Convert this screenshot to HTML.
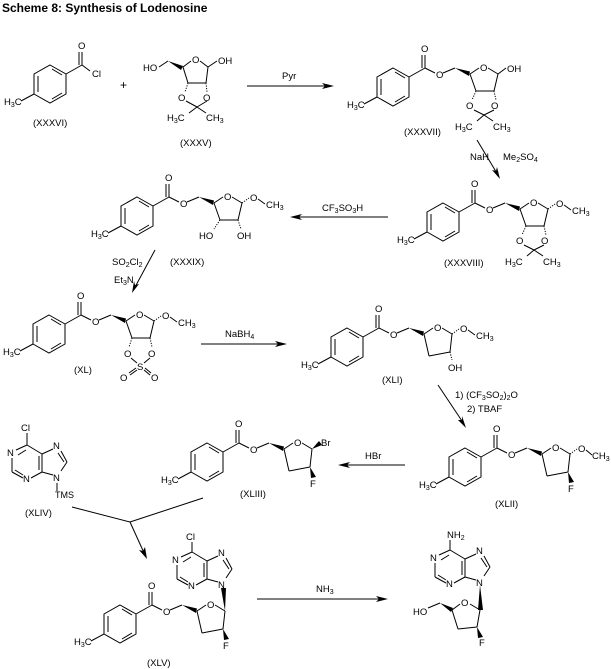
<!DOCTYPE html>
<html><head><meta charset="utf-8"><style>
html,body{margin:0;padding:0;background:#fff;}
svg{display:block;}
text{font-family:"Liberation Sans",sans-serif;font-size:9.5px;fill:#000;}
.s{font-size:7px;}
line,polyline,polygon.r{stroke:#000;stroke-width:1;fill:none;}
polygon.w{fill:#000;stroke:none;}
.h{stroke:#000;stroke-width:1;stroke-dasharray:1.2,1.3;}
</style></head><body>
<svg width="611" height="669" viewBox="0 0 611 669" xmlns="http://www.w3.org/2000/svg">
<defs>
<g id="tol">
<polygon class="r" points="0,-19 16,-10 16,10 0,19 -16,10 -16,-10"/>
<line x1="-12" y1="-8" x2="-12" y2="8"/>
<line x1="2" y1="-15" x2="12" y2="-9"/>
<line x1="2" y1="15" x2="12" y2="9"/>
<line x1="-16" y1="10" x2="-29" y2="17"/>
<line x1="16" y1="-10" x2="32" y2="-19"/>
<line x1="32" y1="-19" x2="32" y2="-32"/>
<line x1="29" y1="-19" x2="29" y2="-32"/>
</g>
<g id="est">
<line x1="32" y1="-19" x2="42" y2="-14"/>
<line x1="50" y1="-14" x2="62" y2="-19"/>
<polygon class="w" points="62,-19 77,-15.5 76,-11"/>
</g>
<g id="acet">
<line x1="77" y1="-13" x2="86" y2="-19"/>
<line x1="95" y1="-19" x2="105" y2="-13"/>
<line x1="105" y1="-13" x2="101" y2="4"/>
<line x1="101" y1="4" x2="83" y2="4"/>
<line x1="83" y1="4" x2="77" y2="-13"/>
</g>
<g id="deoxy">
<line x1="77" y1="-13" x2="86" y2="-19"/>
<line x1="95" y1="-19" x2="105" y2="-13"/>
<line x1="105" y1="-13" x2="103" y2="5"/>
<line x1="103" y1="5" x2="82" y2="9"/>
<line x1="82" y1="9" x2="77" y2="-13"/>
</g>
<g id="pur">
<line x1="0" y1="0" x2="15" y2="9"/>
<line x1="15" y1="9" x2="15" y2="27"/>
<line x1="12" y1="11" x2="12" y2="25"/>
<line x1="15" y1="27" x2="4" y2="33"/>
<line x1="-4" y1="33" x2="-15" y2="27"/>
<line x1="-12" y1="25" x2="-4" y2="30"/>
<line x1="-15" y1="27" x2="-15" y2="13"/>
<line x1="-11" y1="5" x2="0" y2="0"/>
<line x1="-9" y1="10" x2="-1" y2="5"/>
<line x1="15" y1="9" x2="26" y2="4"/>
<line x1="34" y1="6" x2="40" y2="17"/>
<line x1="31" y1="8" x2="37" y2="17"/>
<line x1="40" y1="17" x2="34" y2="26"/>
<line x1="26" y1="30" x2="15" y2="27"/>
</g>
</defs>

<text x="2" y="12" style="font-weight:bold;font-size:12px">Scheme 8: Synthesis of Lodenosine</text>

<g transform="translate(50,84)">
<use href="#tol"/>
<text x="-46" y="21">H<tspan class="s" dy="2">3</tspan><tspan dy="-2">C</tspan></text>
<text x="28" y="-35">O</text>
<line x1="32" y1="-19" x2="40" y2="-13"/>
<text x="42" y="-7">Cl</text>
</g>
<text x="33" y="126">(XXXVI)</text>
<text x="120" y="89" style="font-size:12px">+</text>

<text x="143" y="71">HO</text>
<line x1="159" y1="67" x2="168" y2="61"/>
<polygon class="w" points="168,61 183,66 181,70"/>
<line x1="183" y1="67" x2="191" y2="61"/>
<text x="192" y="63">O</text>
<line x1="200" y1="61" x2="208" y2="67"/>
<line x1="208" y1="67" x2="217" y2="61"/>
<text x="218" y="64">OH</text>
<line x1="208" y1="67" x2="206" y2="83"/>
<line x1="206" y1="83" x2="188" y2="83"/>
<line x1="188" y1="83" x2="183" y2="67"/>
<line class="h" x1="188" y1="83" x2="185" y2="92"/>
<line class="h" x1="206" y1="83" x2="207" y2="92"/>
<text x="178" y="101">O</text>
<text x="203" y="101">O</text>
<line x1="186" y1="101" x2="197" y2="107"/>
<line x1="207" y1="101" x2="197" y2="107"/>
<line x1="197" y1="107" x2="189" y2="113"/>
<line x1="197" y1="107" x2="206" y2="113"/>
<text x="167" y="121">H<tspan class="s" dy="2">3</tspan><tspan dy="-2">C</tspan></text>
<text x="206" y="121">CH<tspan class="s" dy="2">3</tspan></text>
<text x="180" y="146">(XXXV)</text>

<line x1="247" y1="86" x2="330" y2="86"/>
<polygon class="w" points="334,86 322,83 325,86 322,89"/>
<text x="282" y="79">Pyr</text>

<g transform="translate(393,87)">
<use href="#tol"/><use href="#est"/><use href="#acet"/>
<text x="-46" y="21">H<tspan class="s" dy="2">3</tspan><tspan dy="-2">C</tspan></text>
<text x="28" y="-35">O</text>
<text x="43" y="-9">O</text>
<text x="87" y="-16">O</text>
<line x1="105" y1="-13" x2="113" y2="-19"/>
<text x="114" y="-15">OH</text>
<line class="h" x1="83" y1="4" x2="79" y2="13"/>
<line class="h" x1="101" y1="4" x2="103" y2="13"/>
<text x="73" y="22">O</text><text x="98" y="22">O</text>
<line x1="81" y1="23" x2="91" y2="28"/><line x1="101" y1="23" x2="91" y2="28"/>
<line x1="91" y1="28" x2="84" y2="34"/><line x1="91" y1="28" x2="100" y2="34"/>
<text x="62" y="43">H<tspan class="s" dy="2">3</tspan><tspan dy="-2">C</tspan></text>
<text x="100" y="43">CH<tspan class="s" dy="2">3</tspan></text>
</g>
<text x="404" y="135">(XXXVII)</text>

<line x1="477" y1="140" x2="498" y2="175"/>
<polygon class="w" points="500,179 497,167 496,171 492,170"/>
<text x="470" y="160">NaH</text>
<text x="503" y="160">Me<tspan class="s" dy="2">2</tspan><tspan dy="-2">SO</tspan><tspan class="s" dy="2">4</tspan></text>

<g transform="translate(443,222)">
<use href="#tol"/><use href="#est"/><use href="#acet"/>
<text x="-46" y="21">H<tspan class="s" dy="2">3</tspan><tspan dy="-2">C</tspan></text>
<text x="28" y="-35">O</text>
<text x="43" y="-9">O</text>
<text x="87" y="-16">O</text>
<line class="h" x1="105" y1="-13" x2="112" y2="-18"/>
<text x="113" y="-15">O</text>
<line x1="121" y1="-17" x2="128" y2="-12"/>
<text x="129" y="-8">CH<tspan class="s" dy="2">3</tspan></text>
<line class="h" x1="83" y1="4" x2="79" y2="13"/>
<line class="h" x1="101" y1="4" x2="103" y2="13"/>
<text x="73" y="22">O</text><text x="98" y="22">O</text>
<line x1="81" y1="23" x2="91" y2="28"/><line x1="101" y1="23" x2="91" y2="28"/>
<line x1="91" y1="28" x2="84" y2="34"/><line x1="91" y1="28" x2="100" y2="34"/>
<text x="62" y="43">H<tspan class="s" dy="2">3</tspan><tspan dy="-2">C</tspan></text>
<text x="100" y="43">CH<tspan class="s" dy="2">3</tspan></text>
</g>
<text x="444" y="266">(XXXVIII)</text>

<line x1="388" y1="217" x2="294" y2="217"/>
<polygon class="w" points="290,217 302,214 299,217 302,220"/>
<text x="322" y="211">CF<tspan class="s" dy="2">3</tspan><tspan dy="-2">SO</tspan><tspan class="s" dy="2">3</tspan><tspan dy="-2">H</tspan></text>

<g transform="translate(137,216)">
<use href="#tol"/><use href="#est"/><use href="#acet"/>
<text x="-46" y="21">H<tspan class="s" dy="2">3</tspan><tspan dy="-2">C</tspan></text>
<text x="28" y="-35">O</text>
<text x="43" y="-9">O</text>
<text x="87" y="-16">O</text>
<line class="h" x1="105" y1="-13" x2="112" y2="-18"/>
<text x="113" y="-15">O</text>
<line x1="121" y1="-17" x2="128" y2="-12"/>
<text x="129" y="-8">CH<tspan class="s" dy="2">3</tspan></text>
<line class="h" x1="83" y1="4" x2="77" y2="13"/>
<line class="h" x1="101" y1="4" x2="104" y2="13"/>
<text x="62" y="23">HO</text><text x="100" y="23">OH</text>
</g>
<text x="170" y="265">(XXXIX)</text>

<line x1="155" y1="250" x2="134" y2="289"/>
<polygon class="w" points="132,293 134,281 135,285 139,284"/>
<text x="112" y="265">SO<tspan class="s" dy="2">2</tspan><tspan dy="-2">Cl</tspan><tspan class="s" dy="2">2</tspan></text>
<text x="114" y="283">Et<tspan class="s" dy="2">3</tspan><tspan dy="-2">N</tspan></text>

<g transform="translate(49,334)">
<use href="#tol"/><use href="#est"/><use href="#acet"/>
<text x="-46" y="21">H<tspan class="s" dy="2">3</tspan><tspan dy="-2">C</tspan></text>
<text x="28" y="-35">O</text>
<text x="43" y="-9">O</text>
<text x="87" y="-16">O</text>
<line class="h" x1="105" y1="-13" x2="112" y2="-18"/>
<text x="113" y="-15">O</text>
<line x1="121" y1="-17" x2="128" y2="-12"/>
<text x="129" y="-8">CH<tspan class="s" dy="2">3</tspan></text>
<line class="h" x1="83" y1="4" x2="80" y2="13"/>
<line class="h" x1="101" y1="4" x2="103" y2="13"/>
<text x="75" y="23">O</text><text x="99" y="23">O</text>
<line x1="82" y1="24" x2="88" y2="29"/><line x1="101" y1="24" x2="95" y2="29"/>
<text x="88" y="36">S</text>
<line x1="87" y1="34" x2="80" y2="39"/><line x1="88" y1="36" x2="81" y2="41"/>
<line x1="96" y1="34" x2="102" y2="39"/><line x1="95" y1="36" x2="101" y2="41"/>
<text x="71" y="47">O</text><text x="102" y="47">O</text>
</g>
<text x="74" y="373">(XL)</text>

<line x1="201" y1="344" x2="283" y2="344"/>
<polygon class="w" points="287,344 275,341 278,344 275,347"/>
<text x="225" y="337">NaBH<tspan class="s" dy="2">4</tspan></text>

<g transform="translate(347,347)">
<use href="#tol"/><use href="#est"/><use href="#deoxy"/>
<text x="-46" y="21">H<tspan class="s" dy="2">3</tspan><tspan dy="-2">C</tspan></text>
<text x="28" y="-35">O</text>
<text x="43" y="-9">O</text>
<text x="87" y="-16">O</text>
<line class="h" x1="105" y1="-13" x2="112" y2="-18"/>
<text x="113" y="-15">O</text>
<line x1="121" y1="-17" x2="128" y2="-12"/>
<text x="129" y="-8">CH<tspan class="s" dy="2">3</tspan></text>
<line class="h" x1="103" y1="5" x2="105" y2="13"/>
<text x="101" y="24">OH</text>
</g>
<text x="382" y="383">(XLI)</text>

<line x1="438" y1="385" x2="464" y2="424"/>
<polygon class="w" points="466,428 462,416 462,420 458,420"/>
<text x="455" y="398">1) (CF<tspan class="s" dy="2">3</tspan><tspan dy="-2">SO</tspan><tspan class="s" dy="2">2</tspan><tspan dy="-2">)</tspan><tspan class="s" dy="2">2</tspan><tspan dy="-2">O</tspan></text>
<text x="467" y="412">2) TBAF</text>

<g transform="translate(465,467)">
<use href="#tol"/><use href="#est"/><use href="#deoxy"/>
<text x="-46" y="21">H<tspan class="s" dy="2">3</tspan><tspan dy="-2">C</tspan></text>
<text x="28" y="-35">O</text>
<text x="43" y="-9">O</text>
<text x="87" y="-16">O</text>
<line class="h" x1="105" y1="-13" x2="112" y2="-18"/>
<text x="113" y="-15">O</text>
<line x1="121" y1="-17" x2="127" y2="-12"/>
<text x="127" y="-8">CH<tspan class="s" dy="2">3</tspan></text>
<polygon class="w" points="103,5 104,16 109,15"/>
<text x="103" y="25">F</text>
</g>
<text x="495" y="507">(XLII)</text>

<line x1="405" y1="465" x2="342" y2="465"/>
<polygon class="w" points="338,465 350,462 347,465 350,468"/>
<text x="365" y="459">HBr</text>

<g transform="translate(207,462)">
<use href="#tol"/><use href="#est"/><use href="#deoxy"/>
<text x="-46" y="21">H<tspan class="s" dy="2">3</tspan><tspan dy="-2">C</tspan></text>
<text x="28" y="-35">O</text>
<text x="43" y="-9">O</text>
<text x="87" y="-16">O</text>
<polygon class="w" points="105,-13 112,-21 115,-17"/>
<text x="114" y="-16">Br</text>
<polygon class="w" points="103,5 104,16 109,15"/>
<text x="103" y="25">F</text>
</g>
<text x="240" y="497">(XLIII)</text>

<g transform="translate(27,445)">
<use href="#pur"/>
<line x1="0" y1="0" x2="0" y2="-12"/>
<text x="-6" y="-14">Cl</text>
<text x="-20" y="11">N</text>
<text x="-4" y="37">N</text>
<text x="26" y="4">N</text>
<text x="26" y="36">N</text>
<line x1="30" y1="38" x2="30" y2="46"/>
<text x="28" y="53" style="font-size:9px">TMS</text>
</g>
<text x="25" y="516">(XLIV)</text>

<line x1="72" y1="507" x2="130" y2="522"/>
<line x1="203" y1="498" x2="130" y2="522"/>
<line x1="130" y1="522" x2="145" y2="555"/>
<polygon class="w" points="147,559 145,547 143,551 139,550"/>

<g transform="translate(120,624)">
<use href="#tol"/><use href="#est"/><use href="#deoxy"/>
<text x="-46" y="21">H<tspan class="s" dy="2">3</tspan><tspan dy="-2">C</tspan></text>
<text x="28" y="-35">O</text>
<text x="43" y="-9">O</text>
<text x="87" y="-16">O</text>
<polygon class="w" points="105,-13 101,-36 106,-36"/>
<polygon class="w" points="103,5 104,16 109,15"/>
<text x="103" y="25">F</text>
</g>
<g transform="translate(192,552)">
<use href="#pur"/>
<line x1="0" y1="0" x2="0" y2="-10"/>
<text x="-6" y="-12">Cl</text>
<text x="-20" y="11">N</text>
<text x="-4" y="37">N</text>
<text x="26" y="4">N</text>
<text x="26" y="36">N</text>
</g>
<text x="147" y="666">(XLV)</text>

<line x1="257" y1="599" x2="384" y2="599"/>
<polygon class="w" points="388,599 376,596 379,599 376,602"/>
<text x="316" y="592">NH<tspan class="s" dy="2">3</tspan></text>

<g transform="translate(450,550)">
<use href="#pur"/>
<line x1="0" y1="0" x2="0" y2="-10"/>
<text x="-3" y="-12">NH<tspan class="s" dy="2">2</tspan></text>
<text x="-20" y="11">N</text>
<text x="-4" y="37">N</text>
<text x="26" y="4">N</text>
<text x="26" y="36">N</text>
</g>
<polygon class="w" points="480,585 478,610 483,610"/>
<text x="413" y="615">HO</text>
<line x1="428" y1="608" x2="440" y2="603"/>
<polygon class="w" points="440,603 453,608 451,612"/>
<line x1="452" y1="610" x2="460" y2="604"/>
<text x="461" y="606">O</text>
<line x1="470" y1="604" x2="480" y2="610"/>
<line x1="480" y1="610" x2="477" y2="627"/>
<line x1="477" y1="627" x2="458" y2="629"/>
<line x1="458" y1="629" x2="452" y2="610"/>
<polygon class="w" points="477,627 478,638 483,637"/>
<text x="479" y="646">F</text>
</svg>
</body></html>
